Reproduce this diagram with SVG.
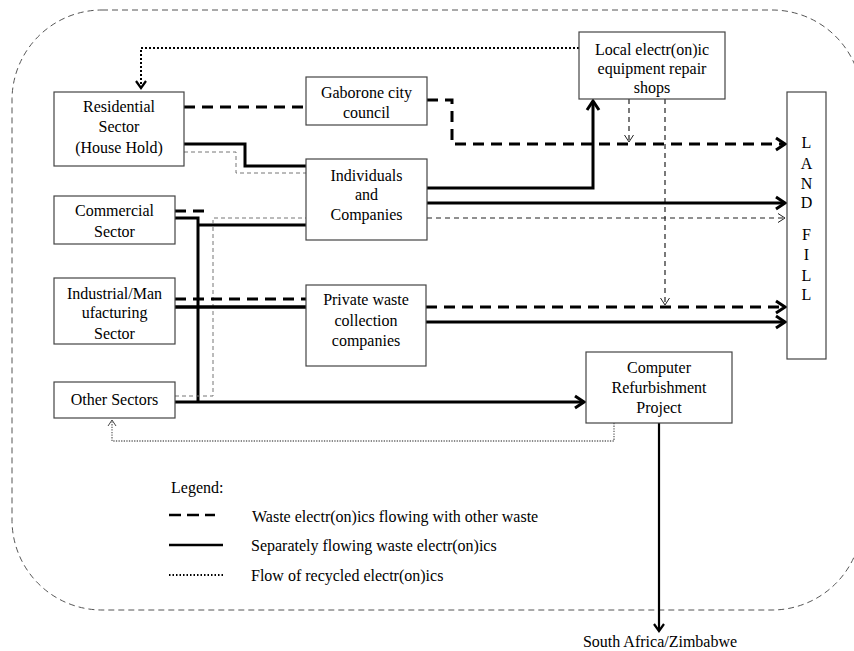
<svg xmlns="http://www.w3.org/2000/svg" width="854" height="651" viewBox="0 0 854 651" font-family="'Liberation Serif', 'Times New Roman', 'DejaVu Serif', serif">
<style>
text{font-family:'Liberation Serif','Times New Roman','DejaVu Serif',serif;font-size:16px;fill:#000}
.n text{text-anchor:middle}
.box{fill:#fff;stroke:#444;stroke-width:1.2}
.c path{fill:none}
.s{stroke:#000;stroke-width:3}
.d{stroke:#000;stroke-width:3;stroke-dasharray:11 7}
.td{stroke:#222;stroke-width:1.2;stroke-dasharray:5 4}
.g{stroke:#777;stroke-width:1;stroke-dasharray:4 3}
.dt{stroke:#000;stroke-width:2;stroke-dasharray:2 2}
.gd{stroke:#666;stroke-width:1.3;stroke-dasharray:1.3 1.3}
</style>
<defs>
<marker id="ak" viewBox="-12 -8 14 16" markerWidth="14" markerHeight="16" refX="0" refY="0" orient="auto" markerUnits="userSpaceOnUse">
<path d="M-9,-6 L0,0 L-9,6" fill="none" stroke="#000" stroke-width="3"/>
</marker>
<marker id="am" viewBox="-12 -8 14 16" markerWidth="14" markerHeight="16" refX="0" refY="0" orient="auto" markerUnits="userSpaceOnUse">
<path d="M-7,-5 L0,0 L-7,5" fill="none" stroke="#000" stroke-width="2.2"/>
</marker>
<marker id="at" viewBox="-10 -6 11 12" markerWidth="11" markerHeight="12" refX="0" refY="0" orient="auto" markerUnits="userSpaceOnUse">
<path d="M-7,-4.5 L0,0 L-7,4.5" fill="none" stroke="#222" stroke-width="1"/>
</marker>
<marker id="ag" viewBox="-10 -6 11 12" markerWidth="11" markerHeight="12" refX="0" refY="0" orient="auto" markerUnits="userSpaceOnUse">
<path d="M-6,-4 L0,0 L-6,4" fill="none" stroke="#444" stroke-width="1"/>
</marker>
</defs>
<rect x="12" y="10" width="850" height="600" rx="90" ry="90" fill="none" stroke="#555" stroke-width="1" stroke-dasharray="6 4"/>
<g id="connectors" class="c">
<path class="dt" d="M579,48 H141 V88" marker-end="url(#am)"/>
<path class="d" d="M184,107 H306"/>
<path class="d" d="M427,100 H452 V144 H785" marker-end="url(#ak)"/>
<path class="td" d="M629,99 V142" marker-end="url(#at)"/>
<path class="td" d="M665,99 V305" marker-end="url(#at)"/>
<path class="s" d="M184,144 H245 V166 H306"/>
<path class="g" d="M184,152 H236 V173 H306"/>
<path class="s" d="M427,188 H593 V101" marker-end="url(#ak)"/>
<path class="s" d="M427,203 H785" marker-end="url(#ak)"/>
<path class="td" d="M427,218 H785" marker-end="url(#at)"/>
<path class="d" d="M175,211 H205"/>
<path class="s" d="M175,218 H198 V402"/>
<path class="s" d="M198,225 H306"/>
<path class="g" d="M175,396 H213 V218 H306"/>
<path class="d" d="M175,299 H306"/>
<path class="s" style="stroke-width:3.6" d="M175,307 H306"/>
<path class="d" d="M426,307 H785" marker-end="url(#ak)"/>
<path class="s" d="M426,322 H785" marker-end="url(#ak)"/>
<path class="s" d="M175,402 H584" marker-end="url(#ak)"/>
<path class="gd" d="M614,423 V441 H112 V420" marker-end="url(#ag)"/>
<path class="s" style="stroke-width:2.2" d="M659,423 V631" marker-end="url(#am)"/>
</g>
<g id="residential" class="n">
<rect class="box" x="54" y="92" width="130" height="74"/>
<text x="119" y="112">Residential</text>
<text x="119" y="132">Sector</text>
<text x="119" y="153">(House Hold)</text>
</g>
<g id="gaborone" class="n">
<rect class="box" x="306" y="77" width="121" height="48"/>
<text x="366.5" y="98">Gaborone city</text>
<text x="366.5" y="118">council</text>
</g>
<g id="individuals" class="n">
<rect class="box" x="306" y="159" width="121" height="81"/>
<text x="366.5" y="181">Individuals</text>
<text x="366.5" y="200">and</text>
<text x="366.5" y="220">Companies</text>
</g>
<g id="commercial" class="n">
<rect class="box" x="54" y="196" width="121" height="48"/>
<text x="114.5" y="216">Commercial</text>
<text x="114.5" y="237">Sector</text>
</g>
<g id="industrial" class="n">
<rect class="box" x="54" y="278" width="121" height="66"/>
<text x="114.5" y="299">Industrial/Man</text>
<text x="114.5" y="318">ufacturing</text>
<text x="114.5" y="339">Sector</text>
</g>
<g id="private" class="n">
<rect class="box" x="306" y="285" width="120" height="81"/>
<text x="366" y="305">Private waste</text>
<text x="366" y="326">collection</text>
<text x="366" y="346">companies</text>
</g>
<g id="other" class="n">
<rect class="box" x="54" y="382" width="121" height="36"/>
<text x="114.5" y="405">Other Sectors</text>
</g>
<g id="repair" class="n">
<rect class="box" x="579" y="32" width="146" height="67"/>
<text x="652" y="55">Local electr(on)ic</text>
<text x="652" y="74">equipment repair</text>
<text x="652" y="93">shops</text>
</g>
<g id="landfill" class="n">
<rect class="box" x="787" y="92" width="39" height="267"/>
<text x="806.5" y="148">L</text>
<text x="806.5" y="169">A</text>
<text x="806.5" y="189">N</text>
<text x="806.5" y="208">D</text>
<text x="806.5" y="240">F</text>
<text x="806.5" y="260">I</text>
<text x="806.5" y="281">L</text>
<text x="806.5" y="300">L</text>
</g>
<g id="refurbishment" class="n">
<rect class="box" x="586" y="352" width="146" height="71"/>
<text x="659" y="373">Computer</text>
<text x="659" y="393">Refurbishment</text>
<text x="659" y="413">Project</text>
</g>
<g id="southafrica" class="n">
<text x="660" y="647">South Africa/Zimbabwe</text>
</g>
<g id="legend">
<text x="171" y="493">Legend:</text>
<path d="M169,515 H215" fill="none" stroke="#000" stroke-width="2.5" stroke-dasharray="12 6"/>
<path d="M169,545 H223" fill="none" stroke="#000" stroke-width="2.5"/>
<path d="M169,575 H223" fill="none" stroke="#000" stroke-width="1.8" stroke-dasharray="1.5 2"/>
<text x="252" y="522">Waste electr(on)ics flowing with other waste</text>
<text x="251" y="551">Separately flowing waste electr(on)ics</text>
<text x="251" y="581">Flow of recycled electr(on)ics</text>
</g>
</svg>
